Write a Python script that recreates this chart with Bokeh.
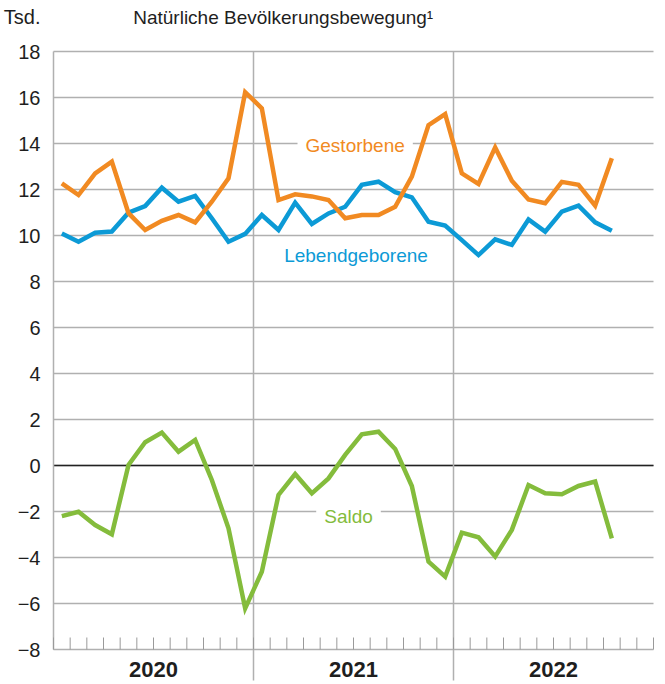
from bokeh.plotting import figure
from bokeh.models import Range1d, FixedTicker, Label, Whisker, ColumnDataSource
from bokeh.embed import file_html
from bokeh.resources import INLINE

# ---- data (Tsd.) Jan 2020 .. Oct 2022 ----
years = ["2020", "2021", "2022"]
months_per_year = 12
gestorbene = [12.27, 11.76, 12.70, 13.21, 10.97, 10.24, 10.64, 10.89, 10.57, 11.47, 12.49, 16.23,
              15.53, 11.54, 11.79, 11.70, 11.54, 10.75, 10.89, 10.89, 11.25, 12.56, 14.80, 15.28,
              12.70, 12.24, 13.83, 12.38, 11.57, 11.40, 12.33, 12.20, 11.30, 13.36]
lebendgeborene = [10.09, 9.73, 10.12, 10.17, 10.99, 11.28, 12.08, 11.47, 11.72, 10.75, 9.73, 10.07,
                  10.89, 10.24, 11.43, 10.50, 10.96, 11.25, 12.20, 12.34, 11.88, 11.66, 10.60, 10.43,
                  9.80, 9.15, 9.83, 9.59, 10.70, 10.17, 11.04, 11.30, 10.57, 10.21]
saldo = [-2.20, -2.01, -2.59, -2.99, 0.02, 1.01, 1.43, 0.60, 1.11, -0.63, -2.73, -6.21,
         -4.62, -1.28, -0.37, -1.21, -0.56, 0.46, 1.36, 1.47, 0.72, -0.89, -4.18, -4.83,
         -2.92, -3.12, -3.96, -2.80, -0.85, -1.21, -1.25, -0.89, -0.70, -3.17]
y_ticks = list(range(-8, 19, 2))
unit_label = "Tsd."
title_text = "Nat\u00fcrliche Bev\u00f6lkerungsbewegung\u00b9"

ORANGE = "#F18A22"
BLUE = "#0C9AD6"
GREEN = "#84BC3C"
GRID = "#b0b0b0"
TEXT = "#1e1e1e"
FONT = "Liberation Sans"

W, H = 663, 682
n_months = months_per_year * len(years)
x = [i + 0.5 for i in range(len(gestorbene))]
y0, y1 = y_ticks[0], y_ticks[-1]

# pixel geometry of the plotting area
TOP_PX, BOT_PX = 51, 649          # screen rows of y1 and y0
LEFT_PX, RIGHT_PX = 53, 653       # screen cols of month 0 and month 36
PX = (y1 - y0) / (BOT_PX - TOP_PX)          # data units per vertical pixel
MX = n_months / (RIGHT_PX - LEFT_PX)        # months per horizontal pixel
FRAME_L, FRAME_R = 50, 656

y_top = y1 + TOP_PX * PX
y_bot = y0 - (H - BOT_PX) * PX
x_start = -(LEFT_PX - FRAME_L) * MX
x_end = n_months + (FRAME_R - RIGHT_PX) * MX

p = figure(width=W, height=H, output_backend="svg", toolbar_location=None,
           x_range=Range1d(x_start, x_end), y_range=Range1d(y_bot, y_top),
           x_axis_location=None,
           min_border_left=FRAME_L, min_border_right=W - FRAME_R,
           min_border_top=0, min_border_bottom=0)
p.outline_line_color = None
p.background_fill_color = "white"
p.border_fill_color = "white"
for g in p.grid:
    g.visible = False


def rule(base, lower, upper, dimension, color, width):
    src = ColumnDataSource(dict(base=list(base), lower=[lower] * len(base), upper=[upper] * len(base)))
    p.add_layout(Whisker(source=src, base="base", lower="lower", upper="upper",
                         dimension=dimension, line_color=color, line_width=width,
                         lower_head=None, upper_head=None, level="underlay"))


year_bounds = [months_per_year * k for k in range(1, len(years))]
rule(y_ticks, 0, n_months, "width", GRID, 1.5)                      # horizontal grid
rule([0], 0, n_months, "width", "#222222", 1.5)                      # zero line
rule([0], y0, y1, "height", GRID, 1.5)                               # left axis line
rule(year_bounds, y0 - 31 * PX, y1, "height", GRID, 1.5)             # year separators
rule(range(n_months + 1), y0, y0 + 12 * PX, "height", "#9a9a9a", 1)  # month ticks

# y axis (tick labels + unit label on top)
unit_y = y1 + 34.5 * PX
p.yaxis.ticker = FixedTicker(ticks=y_ticks + [unit_y])
overrides = {t: (str(t).replace("-", "\u2212")) for t in y_ticks}
overrides[unit_y] = unit_label
p.yaxis.major_label_overrides = overrides
p.yaxis.major_label_text_font = FONT
p.yaxis.major_label_text_font_size = "20px"
p.yaxis.major_label_text_color = TEXT
p.yaxis.major_tick_in = 0
p.yaxis.major_tick_out = 0
p.yaxis.minor_tick_in = 0
p.yaxis.minor_tick_out = 0
p.yaxis.major_label_standoff = 10
p.yaxis.axis_line_color = None

# year labels
for k, yr in enumerate(years):
    p.add_layout(Label(x=months_per_year * k + months_per_year / 2, y=y0 - 19.5 * PX, text=yr,
                       text_align="center", text_baseline="middle",
                       text_font=FONT, text_font_size="22px", text_font_style="bold",
                       text_color=TEXT))

# series labels (white boxes interrupt grid lines)
for txt, col, lx, ly in [("Gestorbene", ORANGE, 18.1, 13.93),
                         ("Lebendgeborene", BLUE, 18.15, 9.11),
                         ("Saldo", GREEN, 17.7, -2.2)]:
    p.add_layout(Label(x=lx, y=ly, text=txt, text_align="center", text_baseline="middle",
                       text_font=FONT, text_font_size="19px", text_color=col,
                       background_fill_color="white", padding=8, level="underlay"))

# lines
p.line(x, saldo, line_color=GREEN, line_width=4.5, line_join="miter")
p.line(x, lebendgeborene, line_color=BLUE, line_width=4.5, line_join="miter")
p.line(x, gestorbene, line_color=ORANGE, line_width=4.5, line_join="miter")

# title
p.add_layout(Label(x=(132.7 - LEFT_PX) * MX, y=y1 + (TOP_PX - 16.5) * PX, text=title_text,
                   text_align="left", text_baseline="middle", text_font=FONT,
                   text_font_size="19px", text_color=TEXT))

open("out.html", "w").write(file_html(p, INLINE))
